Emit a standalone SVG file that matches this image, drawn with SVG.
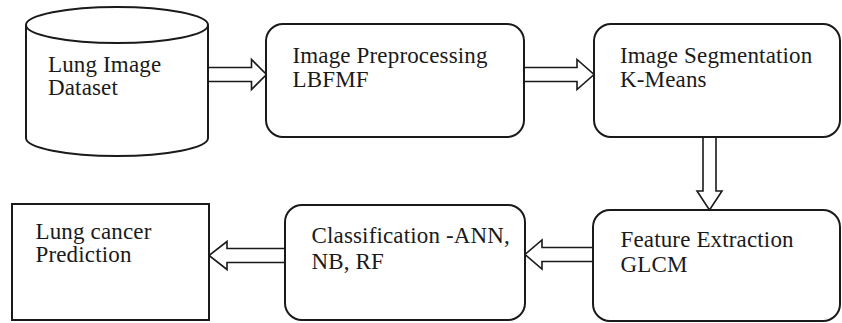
<svg xmlns="http://www.w3.org/2000/svg" width="842" height="323" viewBox="0 0 842 323">
<style>
.shape{fill:#fff;stroke:#1a1a1a;stroke-width:2}
.arrow{fill:#fff;stroke:#1a1a1a;stroke-width:1.6;stroke-linejoin:miter}
text{font-family:"Liberation Serif","Times New Roman",serif;font-size:23px;fill:#1a1a1a;letter-spacing:0.15px}
</style>
<rect x="0" y="0" width="842" height="323" fill="#fff"/>
<g id="connectors">
<polygon class="arrow" points="208,67.5 251.5,67.5 251.5,59.5 266.5,74.5 251.5,89.5 251.5,81.5 208,81.5"/>
<polygon class="arrow" points="524,67.5 577,67.5 577,59.5 594,74.5 577,89.5 577,81.5 524,81.5"/>
<polygon class="arrow" points="703,137 703,191 697,191 709.5,210 722,191 716,191 716,137"/>
<polygon class="arrow" points="593,247.5 542,247.5 542,240 525,254.5 542,269 542,261.5 593,261.5"/>
<polygon class="arrow" points="285,248.5 227,248.5 227,241.5 209,255.5 227,269.5 227,262.5 285,262.5"/>
</g>
<g id="dataset">
<path class="shape" d="M26,25 A91,18 0 0,1 208,25 L208,138 A91,18 0 0,1 26,138 Z"/>
<path class="shape" fill="none" d="M26,25 A91,18 0 0,0 208,25"/>
<text x="48" y="72">Lung Image</text>
<text x="48" y="95">Dataset</text>
</g>
<g id="preprocessing">
<rect class="shape" x="266" y="24" width="258" height="113" rx="17"/>
<text x="292.5" y="62.5">Image Preprocessing</text>
<text x="292.5" y="87">LBFMF</text>
</g>
<g id="segmentation">
<rect class="shape" x="594" y="24" width="246" height="113" rx="17"/>
<text x="620" y="63">Image Segmentation</text>
<text x="620" y="87">K-Means</text>
</g>
<g id="feature">
<rect class="shape" x="593" y="210" width="247" height="111" rx="17"/>
<text x="620.5" y="247">Feature Extraction</text>
<text x="620.5" y="271.5">GLCM</text>
</g>
<g id="classification">
<rect class="shape" x="285" y="205" width="240" height="115" rx="17"/>
<text x="311.5" y="242.5">Classification -ANN,</text>
<text x="311.5" y="269">NB, RF</text>
</g>
<g id="prediction">
<rect class="shape" x="12" y="204" width="197" height="116"/>
<text x="35.5" y="238.5">Lung cancer</text>
<text x="35.5" y="262">Prediction</text>
</g>
</svg>
